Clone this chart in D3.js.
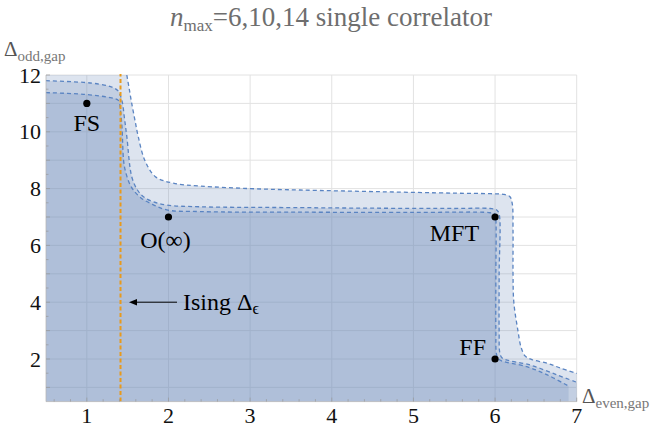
<!DOCTYPE html>
<html><head><meta charset="utf-8">
<script src="https://cdn.jsdelivr.net/npm/d3@7"></script>
<style>body{margin:0;background:#fff}svg{display:block}</style>
</head><body><svg id="c" width="666" height="428"></svg>
<script>
// ---- data ----
const xTicks = [1,2,3,4,5,6,7];
const yTicks = [2,4,6,8,10,12];
const xDomain = [0.5, 7];
const yDomain = [0.5, 12];
const isingDelta = 1.4126;
// boundary of allowed region, nmax = 6 (outermost)
const boundary6 = [[1.49,12],[1.52,11.5],[1.55,11.0],[1.59,10.4],[1.63,9.83],[1.71,9.0],[1.84,8.42],[2.06,8.19],[2.39,8.09],[3.0,8.0],[3.61,7.95],[4.59,7.89],[5.5,7.84],[5.94,7.82],[6.1,7.8],[6.18,7.72],[6.21,7.48],[6.22,6.5],[6.22,5.0],[6.23,4.0],[6.28,3.0],[6.32,2.4],[6.37,2.1],[6.45,1.98],[6.64,1.85],[6.8,1.68],[7.0,1.49]];
// nmax = 10
const boundary10 = [[0.5,11.8],[0.96,11.74],[1.15,11.68],[1.29,11.59],[1.38,11.45],[1.43,11.1],[1.46,10.5],[1.49,9.83],[1.55,8.42],[1.62,7.95],[1.69,7.72],[1.8,7.55],[1.98,7.42],[2.39,7.36],[3.61,7.33],[4.5,7.31],[5.5,7.3],[5.94,7.3],[6.02,7.25],[6.05,7.1],[6.05,5.0],[6.05,3.0],[6.06,2.2],[6.09,2.03],[6.43,1.79],[6.76,1.44],[7.0,1.18]];
// nmax = 14 (innermost)
const boundary14 = [[0.5,11.38],[0.96,11.32],[1.29,11.2],[1.39,11.1],[1.41,10.8],[1.43,10.2],[1.45,9.0],[1.47,8.65],[1.52,8.2],[1.57,7.95],[1.66,7.68],[1.78,7.48],[1.98,7.25],[2.39,7.19],[3.61,7.17],[5.0,7.16],[5.94,7.15],[6.0,7.1],[6.01,6.9],[6.01,5.0],[6.01,3.0],[6.02,2.14],[6.05,1.98],[6.39,1.73],[6.64,1.44],[6.88,1.08],[6.9,1.05]];
const points = [{name:"FS",x:1,y:11},{name:"O(∞)",x:2,y:7},{name:"MFT",x:6,y:7},{name:"FF",x:6,y:2}];

// ---- layout ----
const svg = d3.select("#c");
const L = 46, R = 576.7, T = 75, B = 401.6;
const x = d3.scaleLinear().domain(xDomain).range([L, R]);
const y = d3.scaleLinear().domain(yDomain).range([B, T]);
const serif = "'Liberation Serif','DejaVu Serif',serif";

// grid
const g = svg.append("g");
d3.range(1, 8).forEach(v => g.append("line").attr("x1", x(v)).attr("x2", x(v)).attr("y1", T).attr("y2", B).attr("stroke", "#e2e2e2").attr("stroke-width", 1));
d3.range(1, 13).forEach(v => g.append("line").attr("x1", L).attr("x2", R).attr("y1", y(v)).attr("y2", y(v)).attr("stroke", "#e2e2e2").attr("stroke-width", 1));

const line = d3.line().x(d => x(d[0])).y(d => y(d[1])).curve(d3.curveCatmullRom.alpha(0.5));
const fillCol = "rgb(110,140,185)";
[[boundary6, true], [boundary10, false], [boundary14, false]].forEach(([b, c]) => {
  const last = b[b.length - 1];
  const path = line(b) + `L${x(last[0])},${y(yDomain[0])}L${x(xDomain[0])},${y(yDomain[0])}` + (c ? `L${x(xDomain[0])},${y(yDomain[1])}` : "") + "Z";
  svg.append("path").attr("d", path).attr("fill", fillCol).attr("fill-opacity", 0.235).attr("stroke", "none");
});
[boundary6, boundary10, boundary14].forEach(b => {
  svg.append("path").attr("d", line(b)).attr("fill", "none").attr("stroke", "#5a84c2").attr("stroke-width", 1.3).attr("stroke-dasharray", "4,3");
});

// Ising line
svg.append("line").attr("x1", x(isingDelta)).attr("x2", x(isingDelta)).attr("y1", y(yDomain[0])).attr("y2", y(yDomain[1]) - 1)
  .attr("stroke", "#e89a1c").attr("stroke-width", 2).attr("stroke-dasharray", "4,2.5");

// axes ticks
const ax = svg.append("g");
ax.append("line").attr("x1", L).attr("x2", R).attr("y1", B).attr("y2", B).attr("stroke", "#b8b8b8").attr("stroke-width", 0.8);
ax.append("line").attr("x1", L).attr("x2", L).attr("y1", T).attr("y2", B).attr("stroke", "#b8b8b8").attr("stroke-width", 0.8);
d3.range(0.6, 7.01, 0.2).forEach(v => {
  const major = Math.abs(v - Math.round(v)) < 1e-6;
  ax.append("line").attr("x1", x(v)).attr("x2", x(v)).attr("y1", B).attr("y2", B - (major ? 4 : 2.5)).attr("stroke", "#999").attr("stroke-width", 0.7);
});
d3.range(1, 12.01, 0.5).forEach(v => {
  const major = Math.abs(v - Math.round(v)) < 1e-6;
  ax.append("line").attr("x1", L).attr("x2", L + (major ? 4 : 2.5)).attr("y1", y(v)).attr("y2", y(v)).attr("stroke", "#999").attr("stroke-width", 0.7);
});
xTicks.forEach(v => ax.append("text").attr("x", x(v)).attr("y", 423).attr("text-anchor", "middle").attr("font-family", serif).attr("font-size", 22).attr("fill", "#111").text(v));
yTicks.forEach(v => ax.append("text").attr("x", 41).attr("y", y(v) + 7.5).attr("text-anchor", "end").attr("font-family", serif).attr("font-size", 22).attr("fill", "#111").text(v));

// axis labels
const yl = svg.append("text").attr("x", 4).attr("y", 56).attr("font-family", serif).attr("fill", "#555");
yl.append("tspan").attr("font-size", 21).text("Δ");
yl.append("tspan").attr("font-size", 15).attr("dy", 5).attr("fill", "#777").text("odd,gap");
const xl = svg.append("text").attr("x", 582).attr("y", 403).attr("font-family", serif).attr("fill", "#555");
xl.append("tspan").attr("font-size", 21).text("Δ");
xl.append("tspan").attr("font-size", 15).attr("dy", 5).attr("fill", "#777").text("even,gap");

// title
const tt = svg.append("text").attr("x", 331).attr("y", 26).attr("text-anchor", "middle").attr("font-family", serif).attr("fill", "#6e6e6e").attr("font-size", 27);
tt.append("tspan").attr("font-style", "italic").text("n");
tt.append("tspan").attr("font-size", 17).attr("dy", 5).text("max");
tt.append("tspan").attr("dy", -5).text("=6,10,14 single correlator");

// points
points.forEach(p => svg.append("circle").attr("cx", x(p.x)).attr("cy", y(p.y)).attr("r", 3.6).attr("fill", "#000"));
const lab = (t, px, py, anchor) => svg.append("text").attr("x", px).attr("y", py).attr("text-anchor", anchor).attr("font-family", serif).attr("font-size", 24).attr("fill", "#000").text(t);
lab("FS", x(1), y(11) + 28, "middle");
lab("O(∞)", x(2) - 3, y(7) + 31, "middle");
lab("MFT", x(6) - 16, y(7) + 24, "end");
lab("FF", x(6) - 9, y(2) - 4, "end");

// Ising arrow
svg.append("defs").append("marker").attr("id", "ah").attr("viewBox", "0 0 10 10").attr("refX", 0).attr("refY", 5)
  .attr("markerWidth", 10).attr("markerHeight", 8).attr("orient", "auto-start-reverse").attr("markerUnits", "userSpaceOnUse")
  .append("path").attr("d", "M0,1L10,5L0,9Z").attr("fill", "#000");
svg.append("line").attr("x1", 177).attr("x2", 137).attr("y1", y(4)).attr("y2", y(4)).attr("stroke", "#000").attr("stroke-width", 1).attr("marker-end", "url(#ah)");
const it = svg.append("text").attr("x", 183).attr("y", 310).attr("font-family", serif).attr("font-size", 24).attr("fill", "#000");
it.append("tspan").text("Ising Δ");
it.append("tspan").attr("font-size", 16).attr("dy", 4).text("ϵ");
</script></body></html>
